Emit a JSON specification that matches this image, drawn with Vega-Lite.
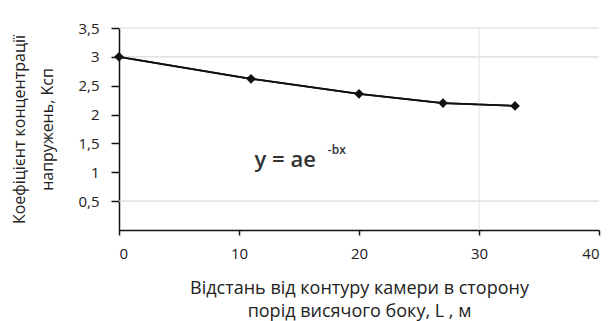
{
  "$schema": "https://vega.github.io/schema/vega-lite/v6.json",
  "autosize": "none",
  "width": 480,
  "height": 202,
  "padding": {"left": 119, "top": 28, "right": 10, "bottom": 91},
  "background": "white",
  "config": {
    "view": {"stroke": null},
    "font": "Open Sans",
    "axis": {"labelFont": "Open Sans", "titleFont": "Open Sans", "labelColor": "#222", "titleColor": "#222", "domainColor": "#111", "tickColor": "#111", "domainWidth": 1.5, "tickWidth": 1.5, "labelOverlap": false}
  },
  "datasets": {
    "pts": [
      {"x": 0, "y": 3.0},
      {"x": 11, "y": 2.62},
      {"x": 20, "y": 2.36},
      {"x": 27, "y": 2.2},
      {"x": 33, "y": 2.15}
    ],
    "hgrid": [{"y": 0.5}, {"y": 3}, {"y": 3.5}],
    "vgrid": [{"x": 30}],
    "eq": [
      {"x": 11.3, "y": 1.1, "t": "y = ae", "s": 22},
      {"x": 17.4, "y": 1.32, "t": "-bx", "s": 12}
    ]
  },
  "layer": [
    {
      "data": {"name": "pts"},
      "mark": {"type": "line", "color": "#111", "strokeWidth": 1.8},
      "encoding": {
        "x": {"field": "x", "type": "quantitative", "scale": {"domain": [0, 40], "nice": false},
          "axis": {"values": [0, 10, 20, 30, 40], "tickCount": 10, "grid": false, "labelFontSize": 15, "labelPadding": 11, "tickSize": 5,
            "title": ["Відстань від контуру камери в сторону", "порід висячого боку, L , м"], "titleFontSize": 18, "titleFontWeight": 500, "titlePadding": 18, "titleLineHeight": 23}},
        "y": {"field": "y", "type": "quantitative", "scale": {"domain": [0, 3.5], "nice": false},
          "axis": {"values": [0.5, 1, 1.5, 2, 2.5, 3, 3.5], "tickCount": 10, "grid": false, "labelOverlap": false, "labelFontSize": 15, "labelPadding": 12, "tickSize": 8,
            "labelExpr": "replace(format(datum.value, '.1~f'), '.', ',')",
            "title": ["Коефіцієнт концентрації", "напружень, Kсп"], "titleFontSize": 16, "titleFontWeight": 500, "titlePadding": 22, "titleLineHeight": 28}}
      }
    },
    {
      "data": {"name": "hgrid"},
      "mark": {"type": "rule", "color": "#d9d9d9", "strokeWidth": 1.2},
      "encoding": {
        "y": {"field": "y", "type": "quantitative"}
      }
    },
    {
      "data": {"name": "vgrid"},
      "mark": {"type": "rule", "color": "#e0e0e0", "strokeWidth": 1},
      "encoding": {
        "x": {"field": "x", "type": "quantitative"}
      }
    },
    {
      "data": {"name": "pts"},
      "mark": {"type": "line", "color": "#111", "strokeWidth": 1.8},
      "encoding": {
        "x": {"field": "x", "type": "quantitative"},
        "y": {"field": "y", "type": "quantitative"}
      }
    },
    {
      "data": {"name": "pts"},
      "mark": {"type": "point", "shape": "diamond", "filled": true, "color": "#111", "size": 95, "opacity": 1},
      "encoding": {
        "x": {"field": "x", "type": "quantitative"},
        "y": {"field": "y", "type": "quantitative"}
      }
    },
    {
      "data": {"name": "eq"},
      "mark": {"type": "text", "align": "left", "baseline": "alphabetic", "color": "#333", "fontWeight": 600},
      "encoding": {
        "x": {"field": "x", "type": "quantitative"},
        "y": {"field": "y", "type": "quantitative"},
        "text": {"field": "t"},
        "size": {"field": "s", "type": "quantitative", "scale": null}
      }
    }
  ]
}
